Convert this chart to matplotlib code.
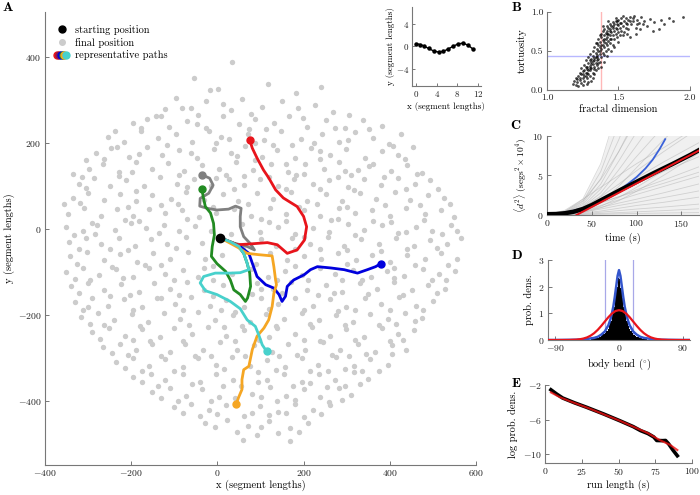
import matplotlib
matplotlib.use('Agg')
import matplotlib.pyplot as plt
from matplotlib.lines import Line2D
from matplotlib.legend_handler import HandlerTuple

plt.rcParams['font.family'] = 'serif'
plt.rcParams['font.serif'] = ['cmr10']
plt.rcParams['mathtext.fontset'] = 'cm'
plt.rcParams['axes.formatter.use_mathtext'] = True

# ---------------- Panel A data ----------------
start_xy = (7, -21)
final_pos = [
(34,389),(-18,323),(2,325),(118,338),(183,316),(-55,352),(240,330),
(-121,279),(-82,281),(-61,282),(-44,266),(-27,297),(57,303),(103,283),(149,297),(226,288),(268,272),(-142,262),(31,276),(187,281),(306,266),
(-196,246),(-163,257),(-112,238),(-71,251),(-26,236),(14,262),(49,244),(88,256),(131,246),(166,263),(209,238),(252,254),(297,236),(338,253),(-238,229),(-131,262),(73,233),(382,240),
(-255,214),(-216,203),(-178,227),(-138,211),(-97,222),(-58,203),(-19,227),(27,210),(71,222),(109,206),(148,228),(194,210),(243,222),(281,203),(319,226),(362,211),(398,198),(-3,199),(130,196),(224,201),(427,221),
(-282,176),(-246,188),(-204,168),(-163,190),(-128,172),(-88,183),(-47,166),(-9,187),(32,176),(64,192),(104,168),(139,184),(181,166),(218,189),(262,171),(298,186),(342,166),(383,181),(420,171),(454,190),(-306,161),(87,161),(238,163),
(-298,140),(-266,152),(-229,133),(-189,156),(-152,139),(-114,153),(-77,134),(-36,149),(4,139),(43,156),(82,137),(124,151),(163,133),(203,152),(247,139),(283,155),(327,137),(361,151),(402,134),(441,148),(474,130),(-335,128),(21,126),(183,125),(311,126),
(-322,104),(-286,118),(-249,99),(-212,114),(-171,101),(-134,121),(-93,104),(-54,116),(-16,99),(26,117),(61,103),(99,116),(141,99),(178,117),(221,104),(259,115),(302,98),(341,116),(379,103),(418,119),(459,104),(494,113),(-229,123),(120,121),(280,121),
(-336,71),(-301,83),(-263,67),(-226,81),(-188,64),(-151,78),(-108,69),(-72,86),(-31,67),(12,81),(48,64),(91,83),(128,69),(171,86),(208,66),(252,81),(289,64),(331,83),(368,69),(411,86),(448,68),(489,79),(526,71),(-356,57),(-130,56),(72,57),(231,58),(390,56),
(-346,34),(-309,48),(-271,31),(-233,46),(-196,29),(-158,47),(-121,36),(-81,44),(-42,28),(38,46),(79,31),(121,49),(158,34),(202,44),(239,29),(281,49),(319,36),(358,44),(401,30),(438,48),(482,34),(518,45),(548,27),(-3,38),(101,22),(263,21),(-214,21),
(-352,4),(-313,-6),(-279,10),(-238,-3),(-201,13),(-166,1),(-124,9),(-89,-6),(-51,7),(-14,-4),(58,12),(99,-8),(141,5),(179,-11),(221,3),(258,-7),(302,11),(339,-2),(381,8),(419,-9),(461,5),(499,-4),(541,9),(-332,-14),(120,16),(402,16),(31,-12),
(-344,-31),(-304,-21),(-269,-36),(-229,-22),(-192,-39),(-154,-24),(-116,-36),(-74,-19),(-36,-33),(102,-24),(136,-41),(173,-22),(214,-36),(256,-19),(294,-39),(333,-24),(376,-36),(414,-21),(457,-39),(494,-26),(533,-35),(565,-22),(-250,-48),(60,-46),(238,-48),(441,-47),
(-341,-64),(-302,-55),(-263,-73),(-226,-59),(-186,-76),(-149,-57),(-111,-71),(-68,-55),(-29,-69),(11,-60),(121,-57),(162,-73),(201,-63),(241,-71),(279,-57),(322,-72),(358,-60),(401,-76),(439,-61),(481,-71),(518,-57),(556,-69),(-168,-84),(89,-82),(458,-84),(-10,-86),
(-351,-101),(-311,-92),(-274,-108),(-236,-94),(-197,-111),(-158,-91),(-121,-104),(-79,-96),(-46,-112),(33,-104),(77,-94),(117,-111),(156,-97),(196,-108),(237,-91),(274,-104),(314,-96),(356,-111),(394,-98),(433,-109),(476,-93),(514,-104),(551,-97),(-295,-119),(138,-120),(336,-118),(497,-120),
(-339,-134),(-301,-127),(-264,-143),(-224,-129),(-183,-146),(-148,-127),(-109,-141),(-71,-124),(-32,-143),(12,-130),(92,-127),(128,-141),(171,-124),(209,-143),(252,-131),(289,-146),(331,-127),(371,-141),(409,-124),(451,-143),(488,-131),(529,-139),(-203,-155),(233,-155),(-90,-153),(431,-154),
(-331,-171),(-291,-161),(-254,-179),(-216,-164),(-176,-181),(-139,-162),(-99,-176),(-61,-159),(-18,-179),(21,-166),(62,-181),(101,-161),(141,-176),(179,-160),(222,-179),(261,-164),(299,-181),(342,-162),(379,-176),(421,-159),(461,-179),(501,-167),(-312,-189),(8,-190),(319,-190),(478,-190),
(-316,-206),(-276,-197),(-239,-213),(-199,-199),(-161,-216),(-124,-197),(-86,-211),(-44,-194),(-6,-213),(36,-201),(76,-216),(113,-198),(154,-211),(196,-196),(236,-213),(276,-201),(314,-216),(354,-198),(396,-211),(436,-196),(474,-208),(-262,-225),(58,-226),(375,-224),
(-292,-241),(-251,-231),(-214,-249),(-176,-234),(-134,-251),(-101,-232),(-59,-246),(-21,-229),(19,-249),(61,-236),(139,-231),(181,-246),(219,-229),(261,-249),(299,-234),(341,-251),(381,-232),(419,-246),(456,-236),(-156,-260),(97,-258),(238,-262),(400,-261),
(-266,-276),(-226,-267),(-189,-283),(-151,-269),(-109,-286),(-76,-267),(-34,-281),(6,-264),(46,-283),(84,-271),(126,-286),(164,-267),(204,-281),(246,-264),(284,-283),(326,-269),(366,-286),(406,-271),(437,-281),(-207,-294),(-53,-296),(144,-296),(305,-297),
(-236,-311),(-196,-301),(-159,-319),(-121,-304),(-79,-321),(-46,-301),(-4,-316),(34,-299),(76,-319),(116,-306),(156,-321),(196,-301),(234,-316),(276,-299),(316,-319),(354,-304),(396,-316),(-176,-330),(95,-333),(256,-331),(374,-331),
(-196,-346),(-154,-337),(-121,-353),(-79,-339),(-41,-356),(-4,-337),(36,-351),(116,-353),(154,-339),(196,-356),(236,-337),(274,-351),(316,-334),(349,-349),(-138,-366),(14,-367),(176,-367),(297,-366),
(-151,-381),(-109,-371),(-74,-389),(-36,-374),(4,-391),(81,-384),(121,-369),(159,-389),(201,-374),(239,-391),(281,-371),(309,-386),(-92,-402),(138,-401),(258,-403),
(-101,-416),(-61,-407),(-19,-423),(19,-411),(99,-413),(141,-426),(179,-407),(221,-421),(261,-411),(-41,-437),(61,-437),(201,-438),
(-29,-451),(22,-446),(71,-459),(119,-448),(168,-463),(211,-452),(91,-481),(168,-495),(46,-472),(141,-476),
(-95,305),(12,292),(78,268),(198,258),(-178,234),(-48,244),(112,232),(272,236),(352,232),
(-232,190),(-118,196),(8,214),(88,199),(172,196),(304,208),(408,193),(-262,163),(-182,174),(-62,176),(46,170),(158,152),(238,182),(352,146),(436,162),
(-314,122),(-198,132),(-90,126),(-4,118),(62,124),(200,128),(296,135),(386,122),(462,128),
(-305,96),(-190,88),(-70,98),(38,92),(158,94),(238,92),(318,90),(438,94),(512,92),
(-318,60),(-208,52),(-92,58),(-10,52),(190,50),(300,52),(470,55),(540,58),
(-290,14),(-182,18),(-70,24),(160,18),(280,22),(360,18),(480,20),(520,-12),
(-285,-12),(-135,-10),(200,-20),(320,-14),(438,-8),(555,-5),
(-322,-46),(-208,-50),(-95,-45),(180,-46),(300,-50),(380,-52),(510,-45),
(-325,-82),(-245,-88),(-130,-85),(-30,-92),(180,-86),(300,-82),(410,-90),(535,-84),
(-330,-117),(-220,-114),(-100,-120),(-10,-118),(100,-140),(210,-120),(290,-118),(410,-114),(530,-118),
(-320,-150),(-250,-156),(-130,-160),(-10,-156),(80,-152),(150,-150),(270,-150),(350,-152),(510,-150),
(-300,-182),(-195,-188),(-80,-190),(40,-193),(120,-186),(200,-190),(280,-192),(400,-188),
(-295,-222),(-180,-226),(-65,-224),(15,-228),(135,-226),(215,-222),(295,-224),(415,-222),(458,-215),
(-272,-256),(-195,-258),(-80,-260),(40,-262),(120,-252),(200,-258),(320,-258),(430,-258),
(-245,-290),(-130,-296),(-15,-295),(65,-296),(185,-294),(265,-294),(345,-292),(405,-292),
(-215,-325),(-100,-330),(15,-326),(135,-328),(215,-330),(295,-326),(335,-332),
(-175,-356),(-60,-362),(55,-365),(95,-356),(215,-360),(255,-368),(330,-362),
(-130,-395),(-15,-400),(40,-395),(100,-392),(180,-398),(290,-398),
(-80,-428),(0,-432),(80,-430),(120,-434),(160,-430),(240,-432),
(-5,-462),(100,-462),(190,-472),(60,-492),
]
final_x = [p[0] for p in final_pos]
final_y = [p[1] for p in final_pos]

path_gray_x = [7, 38, 69, 86, 77, 61, 53, 53, 55, 42, 26, -1, -24, -41, -40, -20, -10, -18, -36]
path_gray_y = [-21, -33, -41, -49, -35, -18, 5, 29, 48, 53, 46, 44, 48, 53, 71, 83, 102, 118, 126]
path_green_x = [7, 46, 61, 69, 75, 77, 70, 65, 53, 38, 30, 19, -1, -14, -12, -7, -9, -16, -28, -33, -36]
path_green_y = [-21, -37, -57, -80, -103, -134, -161, -169, -153, -142, -119, -99, -81, -64, -41, -14, 13, 37, 52, 75, 93]
path_blue_x = [7, 53, 73, 81, 92, 112, 131, 143, 150, 158, 162, 177, 201, 216, 232, 263, 294, 325, 348, 367, 379]
path_blue_y = [-21, -41, -57, -80, -111, -130, -138, -153, -169, -157, -134, -119, -107, -95, -88, -91, -95, -103, -95, -88, -81]
path_red_x = [7, 46, 77, 116, 139, 162, 185, 202, 207, 200, 185, 153, 135, 119, 107, 92, 81, 75]
path_red_y = [-21, -37, -35, -32, -37, -57, -49, -26, 5, 29, 52, 72, 91, 119, 137, 165, 188, 207]
path_orange_x = [7, 49, 69, 95, 127, 131, 135, 137, 131, 127, 119, 108, 92, 81, 73, 61, 57, 57, 49, 44]
path_orange_y = [-21, -44, -57, -60, -63, -88, -119, -130, -150, -181, -212, -231, -250, -281, -320, -328, -351, -374, -393, -407]
path_cyan_x = [7, 30, 50, 61, 69, 73, 53, 30, -5, -32, -40, -28, -1, 30, 53, 69, 88, 96, 104, 114]
path_cyan_y = [-21, -30, -41, -57, -80, -95, -102, -103, -103, -111, -126, -144, -153, -169, -186, -212, -227, -247, -270, -285]

# inset: body posture
posture_x = [0, 0.8, 1.6, 2.4, 3.4, 4.4, 5.3, 6.2, 7.1, 8.1, 9.1, 10.1, 11.0]
posture_y = [0.5, 0.35, 0.05, -0.35, -0.8, -1.0, -0.85, -0.45, 0.0, 0.45, 0.6, 0.2, -0.45]

# ---------------- Panel B data ----------------
frac_tort = [
(1.18,0.08),(1.19,0.12),(1.20,0.06),(1.20,0.15),(1.21,0.10),(1.22,0.18),(1.22,0.05),(1.23,0.13),(1.23,0.22),(1.24,0.09),
(1.24,0.28),(1.25,0.16),(1.25,0.20),(1.26,0.12),(1.26,0.25),(1.26,0.32),(1.27,0.18),(1.27,0.22),(1.27,0.38),(1.28,0.15),
(1.28,0.27),(1.28,0.30),(1.29,0.20),(1.29,0.35),(1.29,0.42),(1.30,0.25),(1.30,0.31),(1.30,0.18),(1.30,0.46),(1.31,0.28),
(1.31,0.36),(1.31,0.40),(1.32,0.22),(1.32,0.33),(1.32,0.44),(1.32,0.50),(1.33,0.30),(1.33,0.38),(1.33,0.27),(1.33,0.55),
(1.34,0.35),(1.34,0.42),(1.34,0.48),(1.34,0.60),(1.35,0.32),(1.35,0.45),(1.35,0.52),(1.35,0.38),(1.36,0.40),(1.36,0.50),
(1.36,0.58),(1.36,0.65),(1.37,0.36),(1.37,0.46),(1.37,0.55),(1.37,0.62),(1.38,0.42),(1.38,0.52),(1.38,0.68),(1.38,0.72),
(1.39,0.48),(1.39,0.58),(1.39,0.64),(1.39,0.75),(1.40,0.45),(1.40,0.55),(1.40,0.62),(1.40,0.70),(1.40,0.78),(1.41,0.50),
(1.41,0.66),(1.41,0.73),(1.42,0.58),(1.42,0.68),(1.42,0.76),(1.42,0.82),(1.43,0.52),(1.43,0.63),(1.43,0.72),(1.43,0.80),
(1.44,0.60),(1.44,0.70),(1.44,0.78),(1.44,0.85),(1.45,0.66),(1.45,0.74),(1.45,0.82),(1.46,0.58),(1.46,0.70),(1.46,0.79),
(1.46,0.87),(1.47,0.65),(1.47,0.75),(1.47,0.84),(1.48,0.72),(1.48,0.80),(1.48,0.88),(1.49,0.68),(1.49,0.78),(1.49,0.85),
(1.50,0.74),(1.50,0.83),(1.50,0.90),(1.51,0.70),(1.51,0.80),(1.52,0.76),(1.52,0.86),(1.52,0.92),(1.53,0.82),(1.54,0.74),
(1.54,0.88),(1.55,0.80),(1.55,0.92),(1.56,0.85),(1.57,0.78),(1.57,0.90),(1.58,0.94),(1.59,0.84),(1.60,0.88),(1.61,0.95),
(1.62,0.80),(1.63,0.90),(1.64,0.86),(1.66,0.93),(1.68,0.88),(1.70,0.82),(1.72,0.91),(1.75,0.87),(1.78,0.78),(1.80,0.90),
(1.85,0.92),(1.88,0.89),(1.95,0.93),(1.62,0.72),(1.58,0.68),(1.50,0.62),(1.45,0.50),(1.40,0.36),(1.36,0.28),(1.32,0.15),
(1.28,0.08),(1.25,0.06),(1.42,0.44),(1.38,0.30),(1.47,0.55),(1.30,0.38),(1.27,0.30),(1.24,0.20),(1.21,0.14),(1.34,0.25),
(1.36,0.35),(1.41,0.60),(1.44,0.66),(1.53,0.70),(1.56,0.72),(1.65,0.78),(1.74,0.75),(1.82,0.84),(1.67,0.84),(1.31,0.12),
(1.29,0.10),(1.33,0.20),(1.35,0.60),(1.37,0.70),(1.39,0.82),(1.43,0.88),(1.48,0.92),(1.53,0.95),(1.60,0.92),(1.26,0.18),
(1.28,0.22),(1.30,0.28),(1.31,0.33),(1.33,0.41),(1.35,0.42),(1.37,0.50),(1.38,0.58),(1.40,0.66),(1.42,0.72),(1.44,0.75),
(1.46,0.82),(1.49,0.88),(1.51,0.86),(1.55,0.86),(1.58,0.88),(1.63,0.84),(1.23,0.16),(1.25,0.24),(1.29,0.26),(1.32,0.37),
]
fd_vals = [p[0] for p in frac_tort]
tort_vals = [p[1] for p in frac_tort]
fd_thresh = 1.375
tort_thresh = 0.435

# ---------------- Panel C data ----------------
msd_t = [0, 20, 40, 60, 80, 100, 130, 172]
msd_tracks = [
[0, 0.02, 0.05, 0.10, 0.15, 0.20, 0.25, 0.3],
[0, 0.03, 0.10, 0.20, 0.30, 0.40, 0.55, 0.8],
[0, 0.05, 0.15, 0.35, 0.55, 0.75, 1.0, 1.4],
[0, 0.08, 0.25, 0.50, 0.85, 1.2, 1.6, 2.3],
[0, 0.10, 0.35, 0.75, 1.2, 1.6, 2.2, 3.1],
[0, 0.12, 0.45, 0.95, 1.5, 2.0, 2.8, 4.0],
[0, 0.15, 0.55, 1.2, 1.9, 2.6, 3.6, 5.0],
[0, 0.18, 0.70, 1.5, 2.3, 3.2, 4.4, 6.2],
[0, 0.20, 0.80, 1.8, 2.9, 4.0, 5.5, 7.5],
[0, 0.22, 0.85, 2.0, 3.3, 4.7, 6.7, 9.3],
[0, 0.25, 0.95, 2.3, 3.9, 5.6, 8.0, 11.2],
[0, 0.20, 0.90, 2.4, 4.8, 7.4, 11.2, 16.5],
[0, 0.25, 1.00, 2.8, 5.7, 8.8, 13.5, 20],
[0, 0.25, 1.10, 3.3, 6.8, 10.5, 16, 24],
[0, 0.30, 1.30, 3.9, 8.0, 12.5, 19, 29],
[0, 0.30, 1.50, 4.6, 9.5, 15, 23, 35],
[0, 0.35, 1.70, 5.5, 11.5, 18, 28, 42],
[0, 0.40, 2.00, 6.5, 14, 22, 34, 50],
[0, 0.60, 2.0, 3.5, 5.0, 6.5, 8.5, 11.5],
[0, 0.30, 0.90, 1.6, 2.3, 3.0, 4.0, 5.5],
[0, 0.10, 0.40, 1.1, 2.2, 3.5, 5.6, 8.7],
[0, 0.05, 0.30, 0.9, 1.8, 3.0, 5.0, 8.0],
[0, 0.50, 1.8, 4.5, 8.0, 12, 18, 27],
[0, 0.15, 0.6, 1.7, 3.6, 6.0, 9.5, 14],
]
msd_mean_t = [0, 10, 20, 30, 40, 50, 60, 70, 80, 100, 120, 140, 160, 172]
msd_mean = [0.1, 0.12, 0.22, 0.42, 0.75, 1.25, 1.85, 2.45, 3.05, 4.2, 5.35, 6.45, 7.6, 8.35]
msd_fit_t = [33, 172]
msd_fit = [0.0, 8.3]
msd_model_t = [0, 10, 25, 40, 50, 60, 75, 90, 100, 110, 118, 126, 132]
msd_model = [0.1, 0.12, 0.4, 0.85, 1.26, 1.8, 2.7, 3.9, 4.8, 5.9, 7.0, 8.4, 9.6]

# ---------------- Panel D data ----------------
bend_centers = list(range(-39, 40, 2))
bend_hist = [0.03, 0.04, 0.05, 0.06, 0.07, 0.09, 0.11, 0.14, 0.17, 0.21,
             0.26, 0.33, 0.42, 0.55, 0.72, 0.95, 1.25, 1.62, 2.0, 2.33,
             2.28, 1.95, 1.58, 1.22, 0.92, 0.70, 0.53, 0.41, 0.32, 0.25,
             0.20, 0.16, 0.13, 0.10, 0.08, 0.07, 0.05, 0.04, 0.03, 0.02]
bend_model_x = [-100, -90, -60, -45, -35, -30, -25, -20, -15, -12, -10, -8, -6, -4, -2, 0,
                2, 4, 6, 8, 10, 12, 15, 20, 25, 30, 35, 45, 60, 90, 100]
bend_model_y = [0, 0, 0.01, 0.04, 0.08, 0.12, 0.2, 0.32, 0.55, 0.78, 1.0, 1.25, 1.6, 2.0, 2.4, 2.62,
                2.4, 2.0, 1.6, 1.25, 1.0, 0.78, 0.55, 0.32, 0.2, 0.12, 0.08, 0.04, 0.01, 0, 0]
bend_gauss_x = [-100, -90, -80, -70, -60, -55, -50, -45, -40, -35, -30, -25, -20, -15, -10, -5, 0,
                5, 10, 15, 20, 25, 30, 35, 40, 45, 50, 55, 60, 70, 80, 90, 100]
bend_gauss_y = [0, 0, 0.0005, 0.003, 0.015, 0.030, 0.056, 0.098, 0.164, 0.257, 0.380, 0.529, 0.692, 0.855, 0.993, 1.087, 1.12,
                1.087, 0.993, 0.855, 0.692, 0.529, 0.380, 0.257, 0.164, 0.098, 0.056, 0.030, 0.015, 0.003, 0.0005, 0, 0]
bend_sigma = 20

# ---------------- Panel E data ----------------
run_len = [4, 8, 12, 20, 28, 40, 51, 60, 65, 70, 74, 76, 80, 82, 84, 87, 90]
run_logp = [-2.55, -3.05, -3.5, -4.05, -4.55, -5.35, -6.13, -6.8, -7.26, -7.6, -8.0, -8.4, -8.42, -8.4, -8.77, -9.5, -10.16]
run_fit_x = [4, 10, 17, 30, 51, 70, 78, 85, 90]
run_fit_y = [-2.85, -3.4, -3.88, -4.7, -6.13, -7.55, -8.35, -8.9, -9.5]

# ---------------- figure ----------------
fig = plt.figure(figsize=(7.0, 4.95), dpi=100)
SPINE = '#777777'
LAB = 7.5
TICK = 7.0

def style(ax, size=TICK):
    for s in ['top', 'right']:
        ax.spines[s].set_visible(False)
    for s in ['left', 'bottom']:
        ax.spines[s].set_color(SPINE)
        ax.spines[s].set_linewidth(0.8)
    ax.tick_params(direction='in', length=3, width=0.7, color=SPINE,
                   labelsize=size, pad=2.5, labelcolor='#222222')

# Panel A
axA = fig.add_axes([0.0643, 0.0606, 0.6157, 0.915])
style(axA)
axA.scatter(final_x, final_y, s=15, color='#cccccc', linewidths=0, zorder=1)
paths = [
    (path_gray_x, path_gray_y, '#808080'),
    (path_green_x, path_green_y, '#228b22'),
    (path_blue_x, path_blue_y, '#0000dd'),
    (path_red_x, path_red_y, '#e8141b'),
    (path_orange_x, path_orange_y, '#f5a623'),
    (path_cyan_x, path_cyan_y, '#48d1cc'),
]
for px, py, c in paths:
    axA.plot(px, py, color=c, lw=2.0, zorder=3, solid_capstyle='round')
    axA.plot(px[-1], py[-1], 'o', color=c, ms=5, zorder=4)
axA.plot(start_xy[0], start_xy[1], 'o', color='black', ms=6, zorder=5)
axA.set_xlim(-400, 600)
axA.set_ylim(-550, 505)
axA.set_xticks([-400, -200, 0, 200, 400, 600])
axA.set_yticks([-400, -200, 0, 200, 400])
axA.set_xlabel('x (segment lengths)', fontsize=LAB, labelpad=1)
axA.set_ylabel('y (segment lengths)', fontsize=LAB, labelpad=2)

h_start = Line2D([], [], ls='none', marker='o', color='black', ms=5)
h_final = Line2D([], [], ls='none', marker='o', color='#cccccc', ms=4)
h_paths = tuple(Line2D([], [], ls='none', marker='o', color=c, ms=5)
                for c in ['#e8141b', '#8b1a4a', '#0000dd', '#228b22', '#f5a623', '#48d1cc'])
axA.legend([h_start, h_final, h_paths],
           ['starting position', 'final position', 'representative paths'],
           handler_map={tuple: HandlerTuple(ndivide=None, pad=-0.6)},
           loc='upper left', bbox_to_anchor=(0.005, 0.985), frameon=False,
           fontsize=LAB, handlelength=1.6, handletextpad=0.5, labelspacing=0.25,
           borderaxespad=0.2)

# inset
axI = fig.add_axes([0.5886, 0.8263, 0.098, 0.1596])
style(axI, size=6.5)
axI.plot(posture_x, posture_y, '-o', color='black', lw=1.0, ms=2.2)
axI.set_xlim(-0.8, 12.5)
axI.set_ylim(-7, 7)
axI.set_xticks([0, 4, 8, 12])
axI.set_yticks([-4, 0, 4])
axI.tick_params(length=2, pad=2)
axI.set_xlabel('x (segment lengths)', fontsize=6.5, labelpad=2)
axI.set_ylabel('y (segment lengths)', fontsize=6.5, labelpad=1)

# Panel B
axB = fig.add_axes([0.7814, 0.8182, 0.2043, 0.1576])
style(axB)
axB.axvline(fd_thresh, color='#ffb8b8', lw=1.0, zorder=1)
axB.axhline(tort_thresh, color='#b8b8ff', lw=1.0, zorder=1)
axB.scatter(fd_vals, tort_vals, s=4, color='black', alpha=0.7, linewidths=0, zorder=2)
axB.set_xlim(1.0, 2.0)
axB.set_ylim(0.0, 1.0)
axB.set_xticks([1.0, 1.5, 2.0])
axB.set_yticks([0.0, 0.5, 1.0])
axB.xaxis.set_major_formatter(matplotlib.ticker.FormatStrFormatter('%.1f'))
axB.yaxis.set_major_formatter(matplotlib.ticker.FormatStrFormatter('%.1f'))
axB.set_xlabel('fractal dimension', fontsize=LAB, labelpad=2)
axB.set_ylabel('tortuosity', fontsize=LAB, labelpad=3)

# Panel C
axC = fig.add_axes([0.7814, 0.5657, 0.2176, 0.1596])
style(axC)
axC.fill_between(msd_t, 0, msd_tracks[17], color='#f0f0f0', lw=0, zorder=0)
for tr in msd_tracks:
    axC.plot(msd_t, tr, color='#aaaaaa', lw=0.6, alpha=0.45, zorder=1)
axC.plot(msd_model_t, msd_model, color='#3b62d9', lw=1.3, zorder=3)
axC.plot(msd_mean_t, msd_mean, color='black', lw=3.2, zorder=4)
axC.plot(msd_fit_t, msd_fit, color='#e8141b', lw=1.4, zorder=5)
axC.set_xlim(0, 170)
axC.set_ylim(0, 10)
axC.set_xticks([0, 50, 100, 150])
axC.set_yticks([0, 5, 10])
axC.set_xlabel('time (s)', fontsize=LAB, labelpad=2)
axC.set_ylabel(r'$\langle d^2\rangle$ (segs$^2\times 10^4$)', fontsize=6.8, labelpad=2)

# Panel D
axD = fig.add_axes([0.7829, 0.3131, 0.2028, 0.1616])
style(axD)
axD.axvline(-bend_sigma, color='#a8a8e8', lw=0.9, zorder=1)
axD.axvline(bend_sigma, color='#a8a8e8', lw=0.9, zorder=1)
axD.bar(bend_centers, bend_hist, width=2.0, color='black', lw=0, zorder=2)
axD.plot(bend_model_x, bend_model_y, color='#3355cc', lw=1.8, zorder=3)
axD.plot(bend_gauss_x, bend_gauss_y, color='#e8141b', lw=1.6, zorder=4)
axD.set_xlim(-100, 100)
axD.set_ylim(0, 3)
axD.set_xticks([-90, 0, 90])
axD.set_yticks([0, 1, 2, 3])
axD.set_xlabel(r'body bend ($^{\circ}$)', fontsize=LAB, labelpad=2)
axD.set_ylabel('prob. dens.', fontsize=LAB, labelpad=3)

# Panel E
axE = fig.add_axes([0.7786, 0.0646, 0.21, 0.1576])
style(axE)
axE.plot(run_len, run_logp, color='black', lw=2.6, zorder=2)
axE.plot(run_fit_x, run_fit_y, color='#ee1111', lw=1.5, alpha=0.8, zorder=3)
axE.set_xlim(0, 100)
axE.set_ylim(-11, -2)
axE.set_xticks([0, 25, 50, 75, 100])
axE.set_yticks([-2, -6, -10])
axE.set_xlabel('run length (s)', fontsize=LAB, labelpad=1.5)
axE.set_ylabel('log prob. dens.', fontsize=LAB, labelpad=3)

# panel letters
for lab, x, y in [('A', 3, 8), ('B', 512, 8), ('C', 510, 126), ('D', 512, 256), ('E', 512, 384)]:
    fig.text(x / 700, 1 - y / 495, lab, fontfamily='cmb10', fontsize=10,
             ha='left', va='center')

fig.savefig('out.png', dpi=100)
